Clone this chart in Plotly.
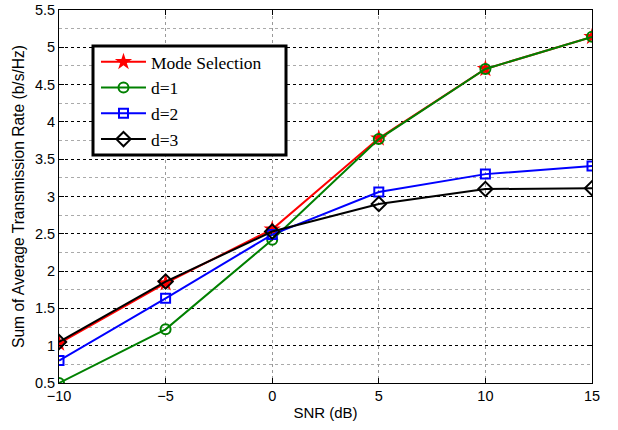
import plotly.graph_objects as go

snr = [-10, -5, 0, 5, 10, 15]
mode_sel = [1.03, 1.84, 2.56, 3.78, 4.71, 5.14]
d1 = [0.50, 1.22, 2.42, 3.77, 4.71, 5.14]
d2 = [0.80, 1.635, 2.49, 3.06, 3.30, 3.41]
d3 = [1.05, 1.86, 2.53, 2.90, 3.10, 3.11]

x_ticks = [-10, -5, 0, 5, 10, 15]
x_ticklabels = ["\u221210", "\u22125", "0", "5", "10", "15"]
y_ticks = [0.5, 1, 1.5, 2, 2.5, 3, 3.5, 4, 4.5, 5, 5.5]
y_ticklabels = ["0.5", "1", "1.5", "2", "2.5", "3", "3.5", "4", "4.5", "5", "5.5"]

fig = go.Figure()
fig.add_trace(go.Scatter(x=snr, y=mode_sel, name="Mode Selection", mode="lines+markers",
                         line=dict(color="#ff0000", width=2),
                         marker=dict(symbol="star", size=13, color="#ff0000")))
fig.add_trace(go.Scatter(x=snr, y=d1, name="d=1", mode="lines+markers",
                         line=dict(color="#008000", width=2),
                         marker=dict(symbol="circle-open", size=10, color="#008000", line=dict(width=2))))
fig.add_trace(go.Scatter(x=snr, y=d2, name="d=2", mode="lines+markers",
                         line=dict(color="#0000ff", width=2),
                         marker=dict(symbol="square-open", size=9, color="#0000ff", line=dict(width=2))))
fig.add_trace(go.Scatter(x=snr, y=d3, name="d=3", mode="lines+markers",
                         line=dict(color="#000000", width=2),
                         marker=dict(symbol="diamond-open", size=11, color="#000000", line=dict(width=2))))

# legend frame (decoration, paper coordinates)
fig.add_shape(type="rect", xref="paper", yref="paper",
              x0=0.0638, x1=0.4259, y0=0.6113, y1=0.9035,
              line=dict(color="black", width=3), fillcolor="white", layer="above")

fig.update_layout(
    width=618, height=430,
    margin=dict(l=59, r=26, t=10, b=47, autoexpand=False),
    paper_bgcolor="white", plot_bgcolor="white",
    font=dict(family="Liberation Sans, Arial, sans-serif", size=14, color="black"),
    legend=dict(x=0.0694, y=0.9089, xanchor="left", yanchor="top",
                borderwidth=0, bgcolor="rgba(0,0,0,0)",
                font=dict(family="Liberation Serif, Times New Roman, serif", size=17.5),
                itemwidth=45, tracegroupgap=0),
    showlegend=True,
)
fig.update_xaxes(
    range=[-10, 15], tickvals=x_ticks, ticktext=x_ticklabels,
    showline=True, linecolor="black", linewidth=1, mirror="ticks",
    ticks="inside", ticklen=5, tickcolor="black",
    showgrid=True, gridcolor="#999999", griddash="dot", gridwidth=1,
    zeroline=False, automargin=False,
    title=dict(text="SNR (dB)", font=dict(size=15), standoff=4),
    tickfont=dict(size=14.5),
)
fig.update_yaxes(
    range=[0.5, 5.5], tickvals=y_ticks, ticktext=y_ticklabels,
    showline=True, linecolor="black", linewidth=1, mirror="ticks",
    ticks="inside", ticklen=5, tickcolor="black",
    showgrid=True, gridcolor="black", griddash="dot", gridwidth=1,
    minor=dict(dtick=0.25, tick0=0.5, showgrid=True, gridcolor="#aaaaaa", griddash="dot", gridwidth=1, ticks=""),
    zeroline=False, automargin=False, ticklabeloverflow="allow",
    title=dict(text="Sum of Average Transmission Rate (b/s/Hz)", font=dict(size=15.6), standoff=6),
    tickfont=dict(size=14.5),
)

fig.write_html("out.html", config={"displayModeBar": False},
               post_script="document.body.style.margin='0';")
